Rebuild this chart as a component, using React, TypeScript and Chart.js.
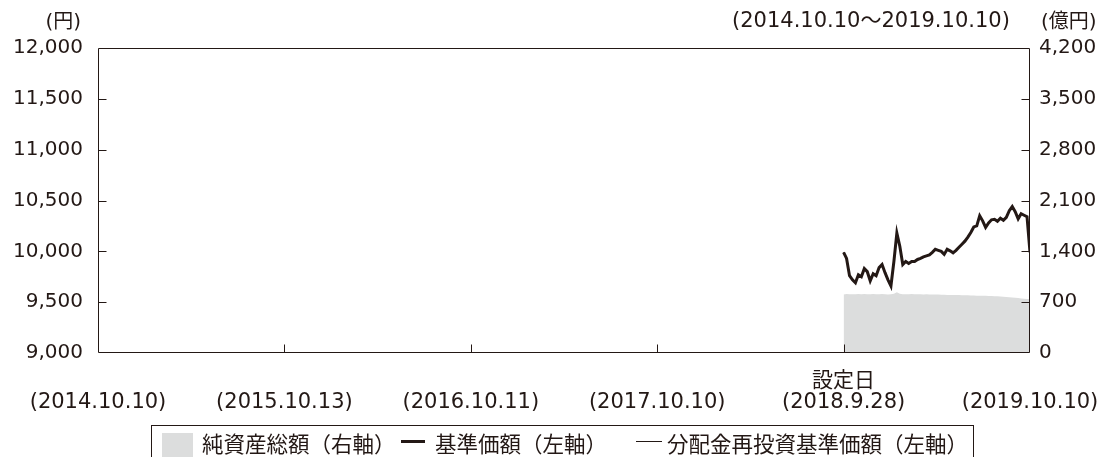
import React, { useEffect, useRef } from "react";
import { Chart, registerables } from "chart.js";

Chart.register(...registerables);

const NUM_FONT = '"DejaVu Sans", "Noto Sans CJK JP", sans-serif';
const CJK_FONT = '"Noto Sans CJK JP", "DejaVu Sans", sans-serif';
const INK = "#231815";
const AREA = "#dcdddd";

// x-axis tick labels (one per year boundary)
const xTickDates = ["(2014.10.10)", "(2015.10.13)", "(2016.10.11)", "(2017.10.10)", "(2018.9.28)", "(2019.10.10)"];
const xTickNotes = ["", "", "", "", "設定日", ""];
const SETUP_INDEX = 4; // 設定日 position among the ticks

// left axis (円)
const leftTicks = [9000, 9500, 10000, 10500, 11000, 11500, 12000];
// right axis (億円)
const rightTicks = [0, 700, 1400, 2100, 2800, 3500, 4200];

// 基準価額 (円), sampled evenly from 2018.9.28 to 2019.10.10
const navValues = [
  9990, 9930, 9760, 9720, 9690, 9770, 9750, 9830, 9800, 9710,
  9780, 9760, 9840, 9870, 9790, 9720, 9660, 9900, 10180, 10050,
  9870, 9900, 9880, 9900, 9900, 9920, 9930, 9945, 9955, 9965,
  9990, 10020, 10010, 10000, 9970, 10020, 10005, 9985, 10010, 10040,
  10070, 10100, 10140, 10185, 10240, 10250, 10350, 10300, 10235, 10280,
  10310, 10315, 10295, 10325, 10305, 10335, 10400, 10440, 10390, 10320,
  10370, 10355, 10340, 9990,
];
// 分配金再投資基準価額 (円) — no distributions, identical to NAV
const reinvestValues = [...navValues];

// 純資産総額 (億円)
const assetValues = [
  805, 812, 810, 808, 810, 812, 809, 811, 810, 808,
  812, 810, 809, 811, 808, 806, 810, 815, 838, 815,
  810, 808, 810, 811, 809, 810, 808, 807, 809, 806,
  805, 806, 804, 803, 802, 800, 800, 799, 798, 797,
  796, 795, 794, 793, 792, 790, 789, 788, 787, 785,
  784, 782, 780, 777, 775, 772, 768, 764, 760, 756,
  752, 748, 745, 742,
];

const toPoints = (vals: number[]) =>
  vals.map((v, i) => ({
    x: SETUP_INDEX + (i * (xTickDates.length - 1 - SETUP_INDEX)) / (vals.length - 1),
    y: v,
  }));

const fmt = (v: number) => v.toLocaleString("en-US");

const framePlugin = {
  id: "frameTicks",
  afterDatasetsDraw(chart: any) {
    const { ctx, chartArea: a, scales } = chart;
    ctx.save();
    ctx.strokeStyle = INK;
    ctx.lineWidth = 1;
    const L = Math.round(a.left) + 0.5;
    const R = Math.round(a.right) - 0.5;
    const T = Math.round(a.top) + 0.5;
    const B = Math.round(a.bottom) - 0.5;
    ctx.beginPath();
    ctx.rect(L, T, R - L, B - T);
    const tl = 8;
    leftTicks.slice(1, -1).forEach((v) => {
      const y = Math.round(scales.y.getPixelForValue(v)) + 0.5;
      ctx.moveTo(L, y);
      ctx.lineTo(L + tl, y);
    });
    rightTicks.slice(1, -1).forEach((v) => {
      const y = Math.round(scales.y2.getPixelForValue(v)) + 0.5;
      ctx.moveTo(R, y);
      ctx.lineTo(R - tl, y);
    });
    xTickDates.slice(1, -1).forEach((_, i) => {
      const x = Math.round(scales.x.getPixelForValue(i + 1)) + 0.5;
      ctx.moveTo(x, B);
      ctx.lineTo(x, B - tl);
    });
    ctx.stroke();
    ctx.restore();
  },
};

export default function App() {
  const canvasRef = useRef<HTMLCanvasElement>(null);

  useEffect(() => {
    const canvas = canvasRef.current;
    if (!canvas) return;
    const chart = new Chart(canvas, {
      type: "line",
      data: {
        datasets: [
          {
            label: "基準価額（左軸）",
            data: toPoints(navValues),
            yAxisID: "y",
            borderColor: INK,
            borderWidth: 3,
            pointRadius: 0,
            tension: 0,
            fill: false,
            order: 0,
          },
          {
            label: "分配金再投資基準価額（左軸）",
            data: toPoints(reinvestValues),
            yAxisID: "y",
            borderColor: INK,
            borderWidth: 1,
            pointRadius: 0,
            tension: 0,
            fill: false,
            order: 1,
          },
          {
            label: "純資産総額（右軸）",
            data: toPoints(assetValues),
            yAxisID: "y2",
            borderColor: AREA,
            backgroundColor: AREA,
            borderWidth: 0,
            pointRadius: 0,
            tension: 0,
            fill: "origin",
            order: 2,
          },
        ],
      },
      options: {
        responsive: false,
        animation: false,
        events: [],
        layout: { autoPadding: false, padding: { top: 48, left: 0, right: 0, bottom: 0 } },
        plugins: { legend: { display: false }, tooltip: { enabled: false } },
        scales: {
          x: {
            type: "linear",
            min: 0,
            max: xTickDates.length - 1,
            grid: { display: false, drawTicks: false },
            border: { display: false },
            afterBuildTicks: (s: any) => {
              s.ticks = xTickDates.map((_, i) => ({ value: i }));
            },
            afterFit: (s: any) => {
              s.height = 104;
              s.paddingLeft = 0;
              s.paddingRight = 0;
            },
            ticks: {
              autoSkip: false,
              maxRotation: 0,
              padding: 18,
              color: INK,
              font: { family: NUM_FONT, size: 21, lineHeight: 1.0 },
              callback: (v: any) => [xTickNotes[v] ?? "", xTickDates[v] ?? ""],
            },
          },
          y: {
            position: "left",
            min: leftTicks[0],
            max: leftTicks[leftTicks.length - 1],
            grid: { display: false, drawTicks: false },
            border: { display: false },
            afterBuildTicks: (s: any) => {
              s.ticks = leftTicks.map((v) => ({ value: v }));
            },
            afterFit: (s: any) => {
              s.width = 98;
            },
            ticks: {
              padding: 15,
              color: INK,
              font: { family: NUM_FONT, size: 20 },
              callback: (v: any) => fmt(Number(v)),
            },
          },
          y2: {
            position: "right",
            min: rightTicks[0],
            max: rightTicks[rightTicks.length - 1],
            grid: { display: false, drawTicks: false },
            border: { display: false },
            afterBuildTicks: (s: any) => {
              s.ticks = rightTicks.map((v) => ({ value: v }));
            },
            afterFit: (s: any) => {
              s.width = 79;
            },
            ticks: {
              padding: 9,
              color: INK,
              font: { family: NUM_FONT, size: 20 },
              callback: (v: any) => fmt(Number(v)),
            },
          },
        },
      },
      plugins: [framePlugin],
    });
    return () => chart.destroy();
  }, []);

  const txt: React.CSSProperties = {
    position: "absolute",
    color: INK,
    whiteSpace: "nowrap",
  };
  const leg: React.CSSProperties = {
    ...txt,
    fontFamily: CJK_FONT,
    fontSize: 21.5,
    lineHeight: "22px",
    top: 432,
  };

  return (
    <div style={{ position: "fixed", left: 0, top: 0, width: 1109, height: 457, overflow: "hidden", background: "#fff" }}>
      <canvas ref={canvasRef} width={1109} height={457} style={{ position: "absolute", left: 0, top: 0 }} />
      <div style={{ ...txt, fontFamily: NUM_FONT, fontSize: 20, lineHeight: "20px", right: 1109 - 81, top: 11 }}>(円)</div>
      <div style={{ ...txt, fontFamily: NUM_FONT, fontSize: 21, lineHeight: "21px", left: 732, top: 10 }}>(2014.10.10～2019.10.10)</div>
      <div style={{ ...txt, fontFamily: NUM_FONT, fontSize: 20, lineHeight: "20px", left: 1041, top: 11 }}>(億円)</div>
      <div
        style={{
          position: "absolute",
          left: 151,
          top: 425,
          width: 823,
          height: 50,
          border: `1px solid ${INK}`,
          boxSizing: "border-box",
        }}
      />
      <div style={{ position: "absolute", left: 162, top: 433, width: 31, height: 24, background: AREA }} />
      <div style={{ ...leg, left: 202 }}>純資産総額（右軸）</div>
      <div style={{ position: "absolute", left: 401, top: 440, width: 24, height: 3, background: INK }} />
      <div style={{ ...leg, left: 435 }}>基準価額（左軸）</div>
      <div style={{ position: "absolute", left: 636, top: 441, width: 26, height: 1, background: INK }} />
      <div style={{ ...leg, left: 667 }}>分配金再投資基準価額（左軸）</div>
    </div>
  );
}
